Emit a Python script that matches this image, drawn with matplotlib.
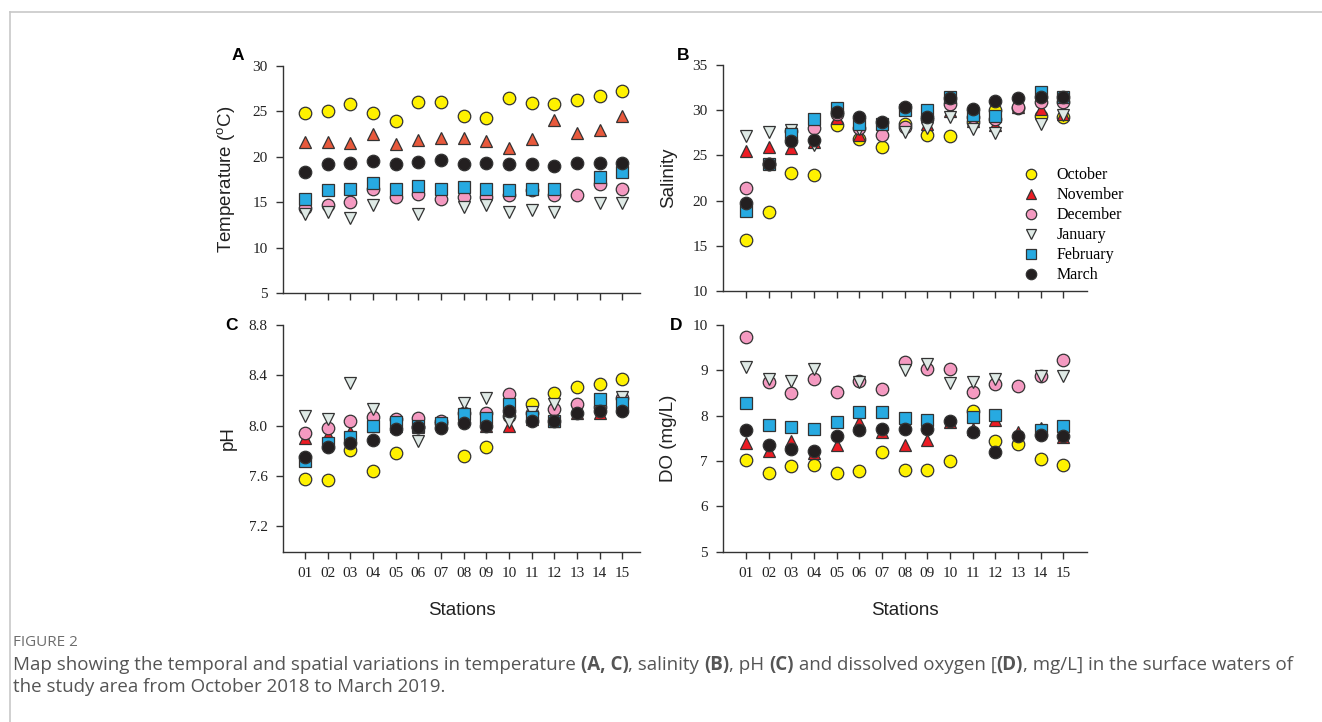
import matplotlib
matplotlib.use("Agg")
import matplotlib.pyplot as plt
import numpy as np
from matplotlib.lines import Line2D

nan = np.nan
stations = ['01', '02', '03', '04', '05', '06', '07', '08', '09', '10', '11', '12', '13', '14', '15']
months = ['October', 'November', 'December', 'January', 'February', 'March']

# temperature (A)
oct_t = [24.8, 25.0, 25.8, 24.8, 23.9, 26.0, 26.0, 24.5, 24.3, 26.5, 25.9, 25.8, 26.2, 26.7, 27.3]
nov_t = [21.6, 21.6, 21.5, 22.5, 21.4, 21.9, 22.1, 22.1, 21.7, 21.0, 22.0, 24.1, 22.6, 22.9, 24.5]
dec_t = [14.4, 14.7, 15.0, 16.4, 15.6, 15.9, 15.4, 15.6, 15.6, 15.8, 16.3, 15.8, 15.8, 17.0, 16.4]
jan_t = [13.7, 13.9, 13.3, 14.7, nan, 13.7, nan, 14.5, 14.7, 13.9, 14.1, 13.9, nan, 14.9, 14.9]
feb_t = [15.3, 16.3, 16.4, 17.1, 16.5, 16.8, 16.4, 16.7, 16.5, 16.3, 16.4, 16.4, nan, 17.8, 18.3]
mar_t = [18.3, 19.2, 19.3, 19.5, 19.2, 19.4, 19.6, 19.2, 19.3, 19.2, 19.2, 19.0, 19.3, 19.3, 19.3]

# salinity (B)
oct_s = [15.6, 18.7, 23.1, 22.8, 28.4, 26.8, 25.9, 28.5, 27.3, 27.1, 28.7, 30.0, 30.2, 29.4, 29.2]
nov_s = [25.5, 25.9, 25.8, 26.5, 29.1, 27.3, 27.9, 30.2, 28.5, 29.9, 28.8, 28.4, 30.3, 30.1, 29.6]
dec_s = [21.4, 24.0, 27.7, 28.0, 29.6, 28.0, 27.3, 28.1, 29.0, 30.7, 29.2, 29.0, 30.3, 30.9, 30.9]
jan_s = [27.1, 27.6, 27.8, 26.1, nan, 27.9, nan, 27.6, 28.0, 29.3, 27.9, 27.5, nan, 28.5, 29.5]
feb_s = [18.9, 24.1, 27.4, 29.0, 30.2, 28.5, 28.5, 30.0, 30.0, 31.5, 29.5, 29.4, nan, 32.0, 31.5]
mar_s = [19.7, 24.0, 26.6, 26.7, 29.8, 29.2, 28.7, 30.3, 29.3, 31.4, 30.1, 31.0, 31.4, 31.5, 31.5]

# pH (C)
oct_p = [7.58, 7.57, 7.81, 7.64, 7.78, 7.99, 8.02, 7.76, 7.83, 8.08, 8.17, 8.26, 8.31, 8.33, 8.37]
nov_p = [7.90, 7.93, 7.95, 8.00, 8.00, 7.99, 8.01, 8.12, 8.00, 8.00, 8.05, 8.04, 8.10, 8.10, 8.15]
dec_p = [7.94, 7.98, 8.04, 8.07, 8.05, 8.06, 8.04, 8.10, 8.10, 8.25, 8.10, 8.13, 8.17, 8.15, 8.22]
jan_p = [8.08, 8.05, 8.34, 8.13, nan, 7.88, nan, 8.18, 8.22, 8.03, 8.11, 8.17, nan, 8.13, 8.23]
feb_p = [7.72, 7.86, 7.91, 8.00, 8.03, 8.00, 8.02, 8.09, 8.06, 8.17, 8.07, 8.04, nan, 8.21, 8.18]
mar_p = [7.75, 7.83, 7.86, 7.89, 7.97, 7.99, 7.98, 8.02, 8.00, 8.12, 8.04, 8.04, 8.10, 8.12, 8.12]

# dissolved oxygen (D)
oct_d = [7.03, 6.74, 6.88, 6.90, 6.73, 6.77, 7.20, 6.79, 6.79, 6.99, 8.10, 7.44, 7.37, 7.04, 6.91]
nov_d = [7.40, 7.23, 7.43, 7.18, 7.35, 7.85, 7.63, 7.35, 7.47, 7.85, 7.70, 7.90, 7.63, 7.73, 7.53]
dec_d = [9.74, 8.75, 8.49, 8.81, 8.53, 8.76, 8.58, 9.19, 9.04, 9.04, 8.53, 8.69, 8.65, 8.87, 9.23]
jan_d = [9.08, 8.80, 8.76, 9.03, nan, 8.75, nan, 9.00, 9.13, 8.71, 8.75, 8.80, nan, 8.88, 8.88]
feb_d = [8.29, 7.80, 7.75, 7.71, 7.85, 8.08, 8.08, 7.95, 7.91, nan, 7.96, 8.02, nan, 7.68, 7.77]
mar_d = [7.68, 7.35, 7.27, 7.23, 7.54, 7.68, 7.71, 7.71, 7.70, 7.88, 7.63, 7.20, 7.55, 7.58, 7.56]

markers = ['o', '^', 'o', 'v', 's', 'o']
colors = ['#fff200', '#ec1c24', '#f49ac1', '#dfeae6', '#27aae1', '#231f20']
sizes = [9, 9, 9, 9, 8, 9]
edge = '#333333'

serif = 'Liberation Serif'
sans = 'Liberation Sans'

fig = plt.figure(figsize=(13.22, 7.22), dpi=100)

def panel(rect, data, ylim, yticks, ylabel, letter, xlim, letter_xy,
          nov_color=None, ylabelx=-0.13, xlabels=True):
    ax = fig.add_axes(rect)
    x = np.arange(1, 16)
    for i, vals in enumerate(data):
        c = colors[i]
        if i == 1 and nov_color:
            c = nov_color
        ax.plot(x, vals, linestyle='none', marker=markers[i], ms=sizes[i],
                mfc=c, mec=edge, mew=0.9, label=months[i])
    ax.set_xlim(*xlim)
    ax.set_ylim(*ylim)
    ax.set_yticks(yticks)
    ax.set_xticks(x)
    ax.set_xticklabels(stations if xlabels else [])
    for s in ['top', 'right']:
        ax.spines[s].set_visible(False)
    for s in ['left', 'bottom']:
        ax.spines[s].set_color('#333333')
        ax.spines[s].set_linewidth(1.0)
    ax.tick_params(direction='out', length=5, width=1, color='#333333',
                   labelsize=11, pad=6)
    for lab in ax.get_xticklabels() + ax.get_yticklabels():
        lab.set_fontfamily(serif)
        lab.set_color('#222222')
    ax.set_ylabel(ylabel, fontsize=13.5, family=sans, color='#222222')
    ax.yaxis.set_label_coords(ylabelx, 0.5)
    ax.text(letter_xy[0], letter_xy[1], letter, transform=ax.transAxes, fontsize=12.5,
            fontweight='bold', family=sans, ha='center', va='center')
    return ax

axA = panel([0.2141, 0.5942, 0.270, 0.3144],
            [oct_t, nov_t, dec_t, jan_t, feb_t, mar_t],
            (5, 30), [5, 10, 15, 20, 25, 30],
            'Temperature ($\\mathregular{^{o}}$C)', 'A', (0.03, 15.78), (-0.126, 1.048),
            nov_color='#e8593c', ylabelx=-0.129, xlabels=False)
axB = panel([0.5469, 0.597, 0.2753, 0.313],
            [oct_s, nov_s, dec_s, jan_s, feb_s, mar_s],
            (10, 35), [10, 15, 20, 25, 30, 35],
            'Salinity', 'B', (-0.02, 16.05), (-0.11, 1.044),
            ylabelx=-0.126, xlabels=False)
axC = panel([0.2141, 0.2361, 0.270, 0.3137],
            [oct_p, nov_p, dec_p, jan_p, feb_p, mar_p],
            (7.0, 8.8), [7.2, 7.6, 8.0, 8.4, 8.8],
            'pH', 'C', (0.03, 15.78), (-0.143, 1.0), ylabelx=-0.129)
axD = panel([0.5469, 0.2361, 0.2753, 0.3137],
            [oct_d, nov_d, dec_d, jan_d, feb_d, mar_d],
            (5, 10), [5, 6, 7, 8, 9, 10],
            'DO (mg/L)', 'D', (-0.02, 16.05), (-0.129, 1.0), ylabelx=-0.126)
axC.set_xlabel('Stations', fontsize=13.5, family=sans, color='#222222', labelpad=16)
axD.set_xlabel('Stations', fontsize=13.5, family=sans, color='#222222', labelpad=16)

handles = [Line2D([], [], linestyle='none', marker=markers[i], ms=7.5, mfc=colors[i],
                  mec=edge, mew=0.9) for i in range(6)]
axB.legend(handles, months, loc='upper left', bbox_to_anchor=(0.803, 0.575),
           frameon=False, prop={'family': serif, 'size': 11.5},
           handletextpad=1.0, labelspacing=0.25, borderaxespad=0, handlelength=1.2)

# page frame lines
fig.add_artist(Line2D([9.5 / 1322, 1], [1 - 11.5 / 722] * 2, color='#c8c8c8', lw=1.2))
fig.add_artist(Line2D([9.5 / 1322] * 2, [0, 1 - 11.5 / 722], color='#c8c8c8', lw=1.2))

# caption
cap_font = 'Open Sans'
fig.text(13 / 1322, 1 - 643 / 722, 'FIGURE 2', fontsize=11, family=cap_font,
         color='#6d6d6d', va='center')

renderer = fig.canvas.get_renderer()

def rich_line(x, y, parts, size, draw=True):
    x0 = x
    made = []
    for s, bold in parts:
        t = fig.text(x, y, s, fontsize=size, family=cap_font, color='#555555',
                     fontweight='bold' if bold else 'normal', va='center')
        bb = t.get_window_extent(renderer)
        x += bb.width / fig.bbox.width
        made.append(t)
    if not draw:
        for t in made:
            t.remove()
    return (x - x0) * fig.bbox.width

line1 = [('Map showing the temporal and spatial variations in temperature\u00a0', False),
         ('(A, C)', True), (',\u00a0salinity\u00a0', False), ('(B)', True),
         (',\u00a0pH\u00a0', False), ('(C)', True),
         ('\u00a0and dissolved oxygen [', False), ('(D)', True),
         (', mg/L] in the surface waters of', False)]
line2 = [('the study area from October 2018 to March 2019.', False)]
w = rich_line(13 / 1322, 0.5, line1, 12, draw=False)
cap_size = 12 * 1279 / w
rich_line(13 / 1322, 1 - 665 / 722, line1, cap_size)
rich_line(13 / 1322, 1 - 687 / 722, line2, cap_size)

fig.savefig('out.png', dpi=100, facecolor='white')
